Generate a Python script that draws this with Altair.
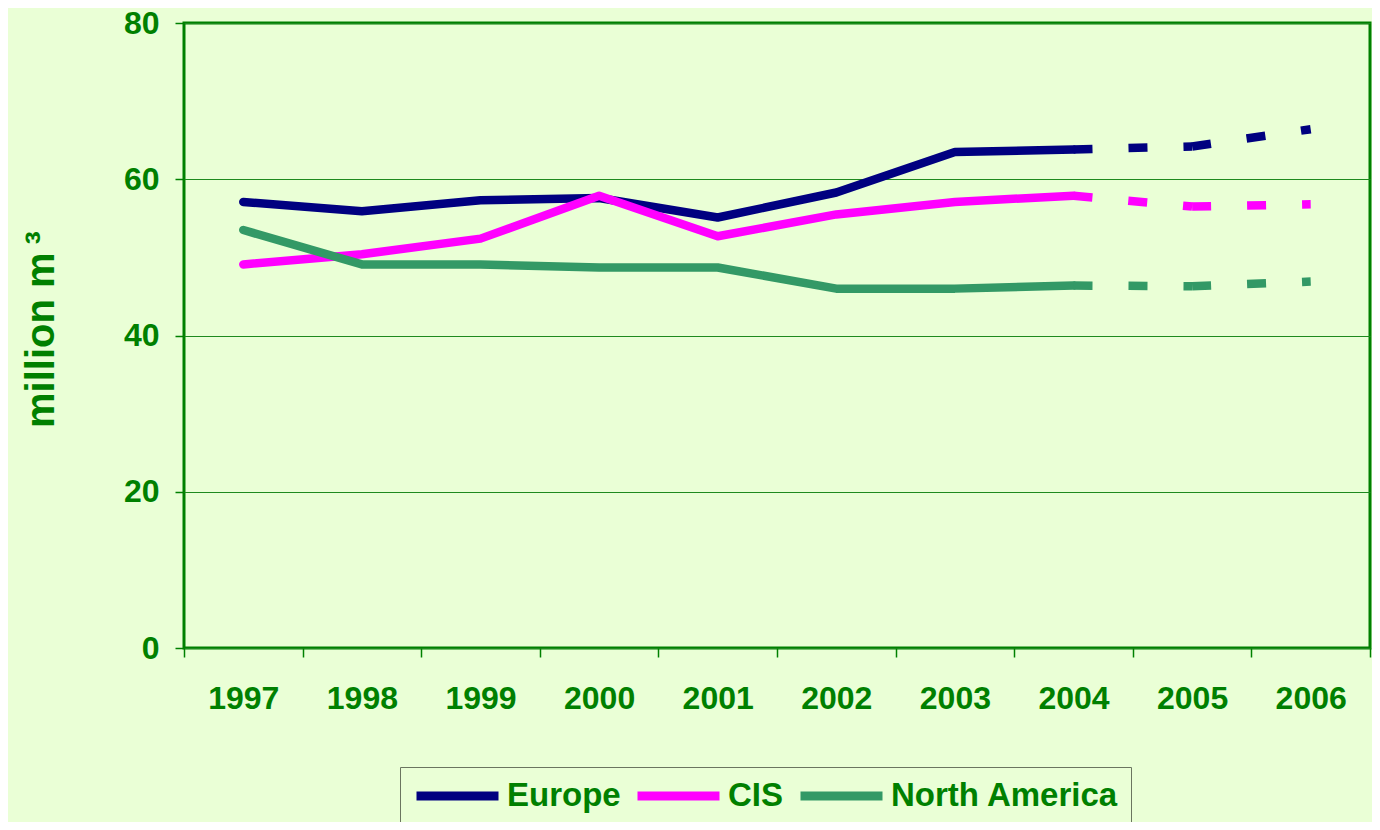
import altair as alt
import pandas as pd

years = ["1997", "1998", "1999", "2000", "2001", "2002", "2003", "2004", "2005", "2006"]
series = ["Europe", "CIS", "North America"]
colors = ["#000080", "#FF00FF", "#339966"]

europe = [57.1, 55.9, 57.3, 57.6, 55.1, 58.3, 63.5, 63.8, 64.2, 66.4]
cis = [49.1, 50.4, 52.4, 57.9, 52.7, 55.5, 57.1, 57.9, 56.5, 56.8]
north_america = [53.5, 49.1, 49.1, 48.7, 48.7, 46.0, 46.0, 46.4, 46.3, 46.9]

n_actual = 8  # 1997-2004 solid, 2004-2006 dashed (forecast)

values = {"Europe": europe, "CIS": cis, "North America": north_america}

solid_rows = []
dash_rows = []
for s in series:
    v = values[s]
    for i, y in enumerate(years):
        if i < n_actual:
            solid_rows.append({"series": s, "year": y, "value": v[i]})
    for i in range(n_actual - 1, len(years) - 1):
        seg = f"{s}-{i}"
        dash_rows.append({"series": s, "year": years[i], "value": v[i], "seg": seg})
        dash_rows.append({"series": s, "year": years[i + 1], "value": v[i + 1], "seg": seg})

solid_df = pd.DataFrame(solid_rows)
dash_df = pd.DataFrame(dash_rows)

GREEN = "#008000"
BG = "#EAFFD6"
FONT = "Liberation Sans"

x_enc = alt.X(
    "year:O",
    bandPosition=0.5,
    scale=alt.Scale(type="band", domain=years, paddingInner=0, paddingOuter=0),
    axis=alt.Axis(
        title=None, labelAngle=0, tickBand="extent", domain=False,
        tickSize=9, tickColor=GREEN, tickWidth=1.5,
        labelFont=FONT, labelFontSize=32, labelFontWeight="bold", labelColor=GREEN,
        labelPadding=26, grid=False,
    ),
)
y_enc = alt.Y(
    "value:Q",
    scale=alt.Scale(domain=[0, 80], nice=False, zero=True),
    axis=alt.Axis(
        title="million m\u2009³", values=[0, 20, 40, 60, 80], domain=False,
        tickSize=9, tickColor=GREEN, tickWidth=1.5,
        labelFont=FONT, labelFontSize=32, labelFontWeight="bold", labelColor=GREEN,
        labelPadding=16, grid=True, gridColor="#1E8A1E", gridWidth=1.2,
        titleFont=FONT, titleFontSize=40, titleFontWeight="bold", titleColor=GREEN,
        titleX=-131, titleY=306, titleAngle=270, titleAlign="center",
        titleBaseline="alphabetic",
    ),
)
color_enc = alt.Color(
    "series:N",
    scale=alt.Scale(domain=series, range=colors),
    sort=series,
    legend=alt.Legend(
        title=None, orient="none", direction="horizontal",
        legendX=216, legendY=744,
        symbolType="stroke", symbolSize=6724, symbolStrokeWidth=9,
        clipHeight=34,
        labelFont=FONT, labelFontSize=33, labelFontWeight="bold", labelColor=GREEN,
        labelOffset=4, columnPadding=12, labelLimit=400,
        padding=12, strokeColor="#6B7560", fillColor=BG,
    ),
)

solid = alt.Chart(solid_df).mark_line(
    strokeWidth=8.5, strokeCap="round", strokeJoin="round"
).encode(x=x_enc, y=y_enc, color=color_enc)

dashed = alt.Chart(dash_df).mark_line(
    strokeWidth=8.5, strokeCap="butt", strokeDash=[19, 36]
).encode(x=x_enc, y=y_enc, color=color_enc, detail="seg:N")

chart = alt.layer(solid, dashed).properties(
    width=1186, height=625,
    background=BG,
    autosize=alt.AutoSizeParams(type="none"),
    padding={"left": 176, "top": 15, "right": 2, "bottom": 174},
).configure_view(stroke=GREEN, strokeWidth=3)

chart.save("out.html", embed_options={"renderer": "svg", "actions": False})
